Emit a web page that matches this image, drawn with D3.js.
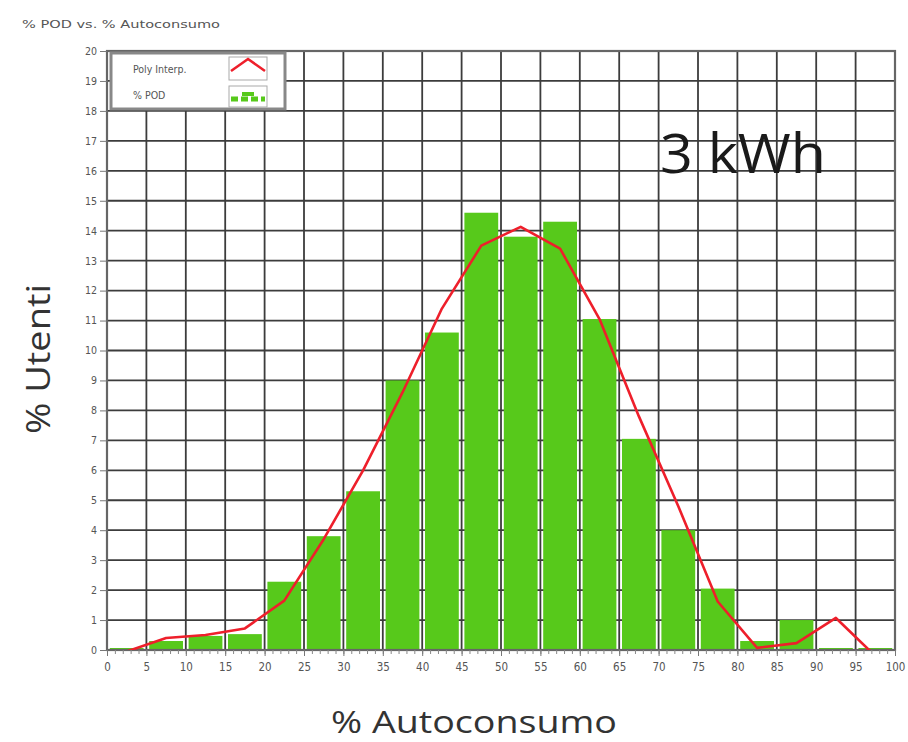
<!DOCTYPE html>
<html><head><meta charset="utf-8">
<script src="https://cdn.jsdelivr.net/npm/d3@7"></script>
<style>body{margin:0;background:#fff}svg{display:block}</style>
</head><body>
<script>
// ---- data ----
const binStarts = [0,5,10,15,20,25,30,35,40,45,50,55,60,65,70,75,80,85,90,95];
const podValues = [0,0.3,0.47,0.53,2.28,3.8,5.3,9.0,10.6,14.6,13.8,14.3,11.05,7.05,4.0,2.05,0.3,1.0,0,0];
const polyX = [2.5,7.5,12.5,17.5,22.5,27.5,32.5,37.5,42.5,47.5,52.5,57.5,62.5,67.5,72.5,77.5,82.5,87.5,92.5,97.5];
const polyY = [-0.05,0.4,0.5,0.72,1.65,3.7,6.0,8.6,11.4,13.5,14.13,13.4,11.05,7.8,4.8,1.62,0.07,0.23,1.07,-0.2];
const xTicks = d3.range(0,101,5);
const yTicks = d3.range(0,21,1);
const title = "% POD vs. % Autoconsumo";
const legendLabels = ["Poly Interp.", "% POD"];

const W=908,H=742;
const svg=d3.select("body").append("svg").attr("width",W).attr("height",H);
const L=107,R=895,T=51,B=650;
const x=d3.scaleLinear().domain([0,100]).range([L,R]);
const y=d3.scaleLinear().domain([0,20]).range([B,T]);
const small="DejaVu Sans Condensed, DejaVu Sans";

svg.append("text").attr("x",22).attr("y",28).attr("font-family",small).attr("font-size",10)
  .attr("fill","#555").attr("textLength",198).attr("lengthAdjust","spacingAndGlyphs").text(title);

// grid
const grid=svg.append("g");
grid.selectAll("line.h").data(yTicks).join("line").attr("x1",L).attr("x2",R)
  .attr("y1",d=>y(d)).attr("y2",d=>y(d)).attr("stroke","#3c3c3c").attr("stroke-width",1.8);
grid.selectAll("line.v").data(xTicks).join("line").attr("y1",T).attr("y2",B)
  .attr("x1",d=>x(d)).attr("x2",d=>x(d)).attr("stroke","#3c3c3c").attr("stroke-width",1.8);

// bars
const bw=x(5)-x(0), pad=2.8;
svg.append("g").selectAll("rect").data(binStarts).join("rect")
  .attr("x",(d)=>x(d)+pad).attr("width",bw-2*pad)
  .attr("y",(d,i)=>Math.min(y(podValues[i]),B-2)).attr("height",(d,i)=>Math.max(2,B-y(podValues[i])))
  .attr("fill","#57c91b");

// frame
svg.append("rect").attr("x",L).attr("y",T).attr("width",R-L).attr("height",B-T)
  .attr("fill","none").attr("stroke","#666").attr("stroke-width",2.2);

// poly line
svg.append("clipPath").attr("id","clip").append("rect").attr("x",L).attr("y",T).attr("width",R-L).attr("height",B-T);
const line=d3.line().x(d=>x(d[0])).y(d=>y(d[1]));
svg.append("path").attr("clip-path","url(#clip)").datum(polyX.map((v,i)=>[v,polyY[i]]))
  .attr("d",line).attr("fill","none").attr("stroke","#ee1f2b").attr("stroke-width",2.6).attr("stroke-linejoin","round");

// axes
const yAxis=d3.axisLeft(y).tickValues(yTicks).tickSize(7).tickPadding(3);
const ga=svg.append("g").attr("transform",`translate(${L},0)`).call(yAxis);
ga.select(".domain").remove();
ga.selectAll("line").attr("stroke","#777");
ga.selectAll("text").attr("font-family",small).attr("font-size",10.5).attr("fill","#555");

const xMinor=d3.axisBottom(x).tickValues(d3.range(0,101,1)).tickSize(4).tickFormat("");
const gm=svg.append("g").attr("transform",`translate(0,${B})`).call(xMinor);
gm.select(".domain").remove(); gm.selectAll("line").attr("stroke","#888");
const xAxis=d3.axisBottom(x).tickValues(xTicks).tickSize(6).tickPadding(7);
const gx=svg.append("g").attr("transform",`translate(0,${B})`).call(xAxis);
gx.select(".domain").remove();
gx.selectAll("line").attr("stroke","#777");
gx.selectAll("text").attr("font-family",small).attr("font-size",11.5).attr("fill","#555");

// legend
const lg=svg.append("g");
lg.append("rect").attr("x",111).attr("y",53).attr("width",174).attr("height",56).attr("fill","#fff").attr("stroke","#888").attr("stroke-width",3);
lg.selectAll("text").data(legendLabels).join("text").attr("x",133).attr("y",(d,i)=>73+i*26)
  .attr("font-family",small).attr("font-size",10.5).attr("fill","#555").text(d=>d);
lg.append("rect").attr("x",229).attr("y",57).attr("width",38).attr("height",23).attr("fill","#fff").attr("stroke","#aaa");
lg.append("rect").attr("x",229).attr("y",86).attr("width",38).attr("height",21).attr("fill","#fff").attr("stroke","#aaa");
lg.append("path").attr("d","M231,71 L248,59 L265,71").attr("fill","none").attr("stroke","#ee1f2b").attr("stroke-width",2.6);
lg.append("line").attr("x1",231).attr("x2",265).attr("y1",99).attr("y2",99).attr("stroke","#57c91b").attr("stroke-width",5).attr("stroke-dasharray","7,3");
lg.append("rect").attr("x",242).attr("y",92).attr("width",12).attr("height",4).attr("fill","#57c91b");

// annotations
svg.append("text").attr("x",660).attr("y",173).attr("font-family","Open Sans").attr("font-size",54).attr("fill","#1a1a1a")
  .attr("textLength",166).attr("lengthAdjust","spacingAndGlyphs").text("3 kWh");
svg.append("text").attr("transform","translate(50,359) rotate(-90)").attr("text-anchor","middle")
  .attr("font-family","Open Sans").attr("font-size",33).attr("fill","#333").attr("textLength",150).attr("lengthAdjust","spacingAndGlyphs").text("% Utenti");
svg.append("text").attr("x",474).attr("y",733).attr("text-anchor","middle")
  .attr("font-family","Open Sans").attr("font-size",31).attr("fill","#333").attr("textLength",286).attr("lengthAdjust","spacingAndGlyphs").text("% Autoconsumo");
</script>
</body></html>
